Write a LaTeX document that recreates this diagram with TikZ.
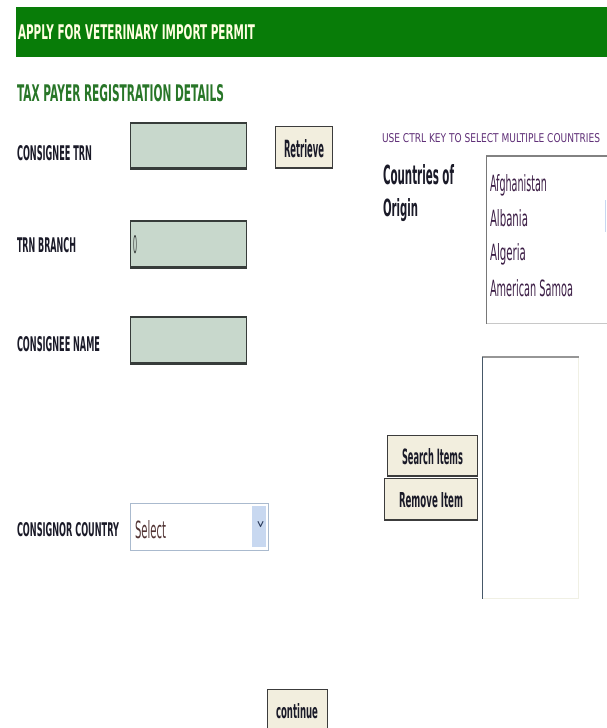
\documentclass[tikz,border=0pt]{standalone}
\usepackage{fontspec}
\setmainfont{DejaVu Sans}
\usepackage{graphicx}
\definecolor{bannergreen}{RGB}{8,124,8}
\definecolor{bannerink}{RGB}{255,255,225}
\definecolor{titlegreen}{RGB}{40,118,40}
\definecolor{labelink}{RGB}{26,26,40}
\definecolor{fieldfill}{RGB}{200,216,204}
\definecolor{fieldline}{RGB}{55,60,58}
\definecolor{btnfill}{RGB}{242,238,222}
\definecolor{btnline}{RGB}{60,60,60}
\definecolor{hintink}{RGB}{96,48,120}
\definecolor{itemink}{RGB}{60,30,70}
\definecolor{selink}{RGB}{80,50,50}
\definecolor{ddline}{RGB}{170,186,206}
\definecolor{ddarrow}{RGB}{200,216,240}
\definecolor{chevron}{RGB}{48,64,96}
\definecolor{listfaint}{RGB}{200,200,200}
\definecolor{listtop}{RGB}{130,130,130}
\definecolor{listleft}{RGB}{120,120,120}
\definecolor{scrollhint}{RGB}{200,215,240}
\definecolor{slistfaint}{RGB}{240,240,228}
\definecolor{slisttop}{RGB}{150,150,150}
\definecolor{slistleft}{RGB}{70,88,104}
\newcommand{\fitt}[3]{\resizebox{#1pt}{#2pt}{#3}}
\tikzset{
  txt/.style={inner sep=0pt, outer sep=0pt, anchor=base west},
  lbl/.style={txt, text=labelink},
  field/.style={draw=fieldline, line width=0.8pt, fill=fieldfill, inner sep=0pt, anchor=north west},
  btn/.style={draw=btnline, line width=1.2pt, fill=btnfill, inner sep=0pt, anchor=north west},
  thickedge/.style={line width=2.2pt, draw=fieldline},
}
\begin{document}
\begin{tikzpicture}[x=1pt,y=-1pt]
\useasboundingbox (0,0) rectangle (607,728);
\clip (0,0) rectangle (607,728);
\fill[white] (0,0) rectangle (607,728);

% banner
\node[fill=bannergreen, minimum width=591pt, minimum height=50pt, inner sep=0pt, anchor=north west] (banner) at (16,7) {};
\node[txt, text=bannerink] (bannertxt) at (18,39) {\fitt{237}{15}{\bfseries APPLY FOR VETERINARY IMPORT PERMIT}};

% subtitle
\node[txt, text=titlegreen] (subtitle) at (17,101) {\fitt{207}{17}{\bfseries TAX PAYER REGISTRATION DETAILS}};

% consignee TRN
\node[lbl] (l1) at (17,160) {\fitt{75}{15}{\bfseries CONSIGNEE TRN}};
\node[field, minimum width=116pt, minimum height=45pt] (f1) at (130,123) {};
\draw[thickedge] (f1.north west) -- (f1.north east);
\draw[thickedge, line width=2.8pt] (f1.south west) -- (f1.south east);
\node[btn, minimum width=57pt, minimum height=41pt] (retrieve) at (275,126) {};
\draw[btnline, line width=2.4pt] (retrieve.south west) -- (retrieve.south east);
\node[txt, text=labelink] (retrievetxt) at (284,157) {\fitt{40}{18}{\bfseries Retrieve}};

% TRN branch
\node[lbl] (l2) at (17,252) {\fitt{59}{15}{\bfseries TRN BRANCH}};
\node[field, minimum width=116pt, minimum height=46pt] (f2) at (130,221) {};
\draw[thickedge] (f2.north west) -- (f2.north east);
\draw[thickedge, line width=2.8pt] (f2.south west) -- (f2.south east);
\node[txt, text=fieldline] (zero) at (133,253) {\fitt{4}{18}{0}};

% consignee name
\node[lbl] (l3) at (17,351) {\fitt{83}{15}{\bfseries CONSIGNEE NAME}};
\node[field, minimum width=116pt, minimum height=46pt] (f3) at (130,317) {};
\draw[thickedge] (f3.north west) -- (f3.north east);
\draw[thickedge, line width=2.8pt] (f3.south west) -- (f3.south east);

% consignor country
\node[lbl] (l4) at (17,536) {\fitt{102}{14}{\bfseries CONSIGNOR COUNTRY}};
\node[draw=ddline, line width=1pt, fill=white, minimum width=138pt, minimum height=47pt, inner sep=0pt, anchor=north west] (dd) at (130,503) {};
\fill[ddarrow] (252,506) rectangle (266,547);
\draw[chevron, line width=1.1pt, line cap=round, line join=round] (258,521.5) -- (260.5,526.5) -- (263,521.5);
\node[txt, text=selink] (select) at (135,538) {\fitt{31}{18}{Select}};

% right side
\node[txt, text=hintink] (hint) at (382,142) {\fitt{218}{9}{USE CTRL KEY TO SELECT MULTIPLE COUNTRIES}};
\node[lbl] (co1) at (383,184) {\fitt{71}{20}{\bfseries Countries of}};
\node[lbl] (co2) at (383,216) {\fitt{35}{18}{\bfseries Origin}};

\node[draw=listfaint, line width=0.8pt, fill=white, minimum width=130pt, minimum height=167pt, inner sep=0pt, anchor=north west] (clist) at (486,156) {};
\draw[listtop, line width=2pt] (clist.north west) -- ([xshift=-8pt]clist.north east);
\draw[listleft, line width=1pt] (clist.north west) -- (clist.south west);
\draw[scrollhint, line width=1pt] (605,200) -- (605,232);

\node[txt, text=itemink] (i1) at (490,191) {\fitt{57}{17}{Afghanistan}};
\node[txt, text=itemink] (i2) at (490,226) {\fitt{38}{17}{Albania}};
\node[txt, text=itemink] (i3) at (490,260) {\fitt{36}{17}{Algeria}};
\node[txt, text=itemink] (i4) at (490,296) {\fitt{83}{17}{American Samoa}};

% selected list
\node[draw=slistfaint, line width=0.8pt, fill=white, minimum width=96pt, minimum height=241pt, inner sep=0pt, anchor=north west] (slist) at (482,357) {};
\draw[slisttop, line width=2.4pt] (slist.north west) -- (slist.north east);
\draw[slistleft, line width=1pt] (slist.north west) -- (slist.south west);

% search / remove buttons
\node[btn, minimum width=90pt, minimum height=40pt] (search) at (387,435) {};
\draw[btnline, line width=2.4pt] (search.south west) -- (search.south east);
\node[txt, text=labelink] (searchtxt) at (402,464) {\fitt{61}{16}{\bfseries Search Items}};
\node[btn, minimum width=93pt, minimum height=41pt] (remove) at (384,478) {};
\draw[btnline, line width=2.4pt] (remove.south west) -- (remove.south east);
\node[txt, text=labelink] (removetxt) at (399,507) {\fitt{64}{15}{\bfseries Remove Item}};

% continue
\node[btn, minimum width=60pt, minimum height=42pt] (cont) at (267,689) {};
\node[txt, text=labelink] (conttxt) at (276,718) {\fitt{42}{15}{\bfseries continue}};
\end{tikzpicture}
\end{document}
